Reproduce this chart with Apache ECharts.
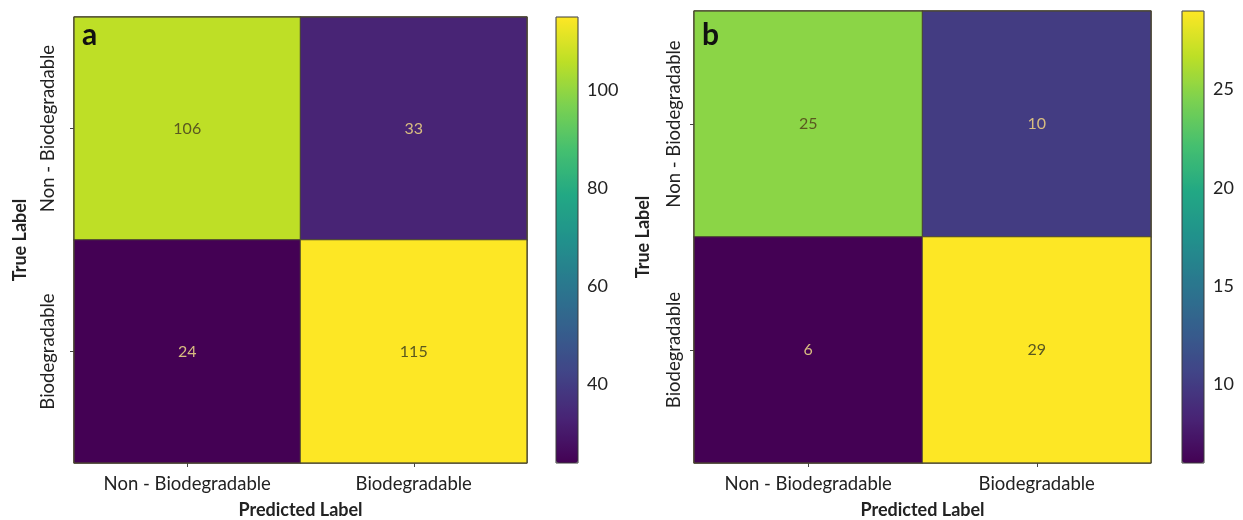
<!DOCTYPE html>
<html>
<head>
<meta charset="utf-8">
<script src="https://cdn.jsdelivr.net/npm/echarts@6/dist/echarts.min.js"></script>
<style>
html,body{margin:0;padding:0;background:#fff;}
#chart{width:1243px;height:520px;}
</style>
</head>
<body>
<div id="chart"></div>
<script>
// ---- data ----
const categories = ['Non - Biodegradable', 'Biodegradable'];
const panelLetters = ['a', 'b'];
// rows = true label, columns = predicted label
const valuesA = [[106, 33], [24, 115]];
const valuesB = [[25, 10], [6, 29]];
const rangeA = [24, 115];
const rangeB = [6, 29];
const cbTicksA = [40, 60, 80, 100];
const cbTicksB = [10, 15, 20, 25];
const xTitle = 'Predicted Label';
const yTitle = 'True Label';

// ---- style ----
const viridis = ['#440154','#482475','#414487','#355f8d','#2a788e','#21918c','#22a884','#44bf70','#7ad151','#bddf26','#fde725'];
const FONT = 'Lato';
const txt = '#222222';
const lightText = '#d8bd80';
const darkText = '#5a5820';

function cells(values, range) {
  const mid = (range[0] + range[1]) / 2;
  const out = [];
  values.forEach((row, r) => row.forEach((v, c) => {
    out.push({ value: [c, r, v], label: { color: v < mid ? lightText : darkText } });
  }));
  return out;
}

const grids = [
  { left: 74, top: 17, width: 453, height: 446 },
  { left: 694, top: 11, width: 457, height: 452 }
];
const cbGrids = [
  { left: 556, top: 17, width: 22, height: 446 },
  { left: 1182, top: 11, width: 22, height: 452 }
];
const ranges = [rangeA, rangeB];
const ticks = [cbTicksA, cbTicksB];
const values = [valuesA, valuesB];
const yNameGaps = [45, 42];
const yLabelMargins = [16, 10];

const option = {
  backgroundColor: '#ffffff',
  animation: false,
  title: panelLetters.map((t, i) => ({
    text: t, left: grids[i].left + 8, top: 20, padding: 0,
    textStyle: { fontFamily: FONT, fontSize: 30, fontWeight: 'bold', color: '#111' }
  })),
  grid: [
    ...grids.map(g => Object.assign({ show: true, borderColor: '#4a4630', borderWidth: 1, z: 10, backgroundColor: 'transparent', containLabel: false, outerBoundsMode: 'none' }, g)),
    ...cbGrids.map(g => Object.assign({ show: true, borderColor: '#3a3a3a', borderWidth: 1, z: 10, backgroundColor: 'transparent', containLabel: false, outerBoundsMode: 'none' }, g))
  ],
  xAxis: [
    ...[0, 1].map(i => ({
      type: 'category', gridIndex: i, data: categories, position: 'bottom',
      axisLine: { show: false },
      axisTick: { show: true, alignWithLabel: true, length: 4, lineStyle: { color: '#444' } },
      axisLabel: { fontFamily: FONT, fontSize: 18.5, color: txt, margin: 12 },
      splitLine: { show: false },
      name: xTitle, nameLocation: 'middle', nameGap: 38,
      nameTextStyle: { fontFamily: FONT, fontSize: 18, fontWeight: 'bold', color: txt }
    })),
    ...[2, 3].map(i => ({ type: 'value', gridIndex: i, show: false }))
  ],
  yAxis: [
    ...[0, 1].map(i => ({
      type: 'category', gridIndex: i, data: categories, inverse: true,
      axisLine: { show: false },
      axisTick: { show: true, alignWithLabel: true, length: 4, lineStyle: { color: '#444' } },
      axisLabel: { fontFamily: FONT, fontSize: 18.5, color: txt, rotate: 90, margin: yLabelMargins[i] },
      splitLine: { show: false },
      name: yTitle, nameLocation: 'middle', nameGap: yNameGaps[i], nameRotate: 90,
      nameTextStyle: { fontFamily: FONT, fontSize: 18, fontWeight: 'bold', color: txt }
    })),
    ...[0, 1].map(i => ({
      type: 'value', gridIndex: i + 2, position: 'right',
      min: ranges[i][0], max: ranges[i][1],
      axisLine: { show: false },
      splitLine: { show: false },
      axisTick: { show: true, length: 5, customValues: ticks[i], lineStyle: { color: '#444' } },
      axisLabel: { show: true, customValues: ticks[i], fontFamily: FONT, fontSize: 18, color: txt, margin: 9 }
    }))
  ],
  visualMap: [0, 1].map(i => ({
    type: 'continuous', seriesIndex: i,
    min: ranges[i][0], max: ranges[i][1],
    left: cbGrids[i].left, top: cbGrids[i].top,
    itemWidth: cbGrids[i].width, itemHeight: cbGrids[i].height,
    padding: 0, calculable: false, hoverLink: false,
    inRange: { color: viridis }
  })),
  series: [0, 1].map(i => ({
    type: 'heatmap', xAxisIndex: i, yAxisIndex: i,
    data: cells(values[i], ranges[i]),
    itemStyle: { borderColor: '#4a4630', borderWidth: 1 },
    label: { show: true, fontFamily: FONT, fontSize: 16 },
    emphasis: { disabled: true }
  }))
};

const chart = echarts.init(document.getElementById('chart'), null, { renderer: 'canvas' });
chart.setOption(option);
</script>
</body>
</html>
